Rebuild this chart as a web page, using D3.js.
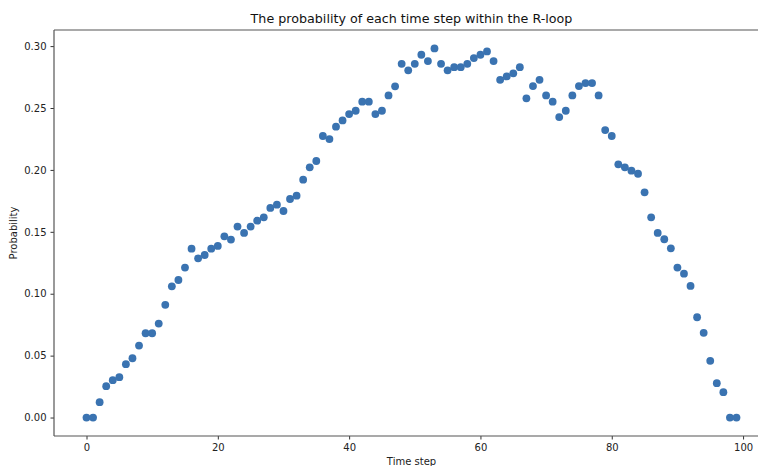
<!DOCTYPE html>
<html>
<head>
    <title>R-loop time step probability</title>
    <style>
        body { margin: 0; background: #ffffff; }
        svg { display: block; }
        .tick text { font-family: "DejaVu Sans", sans-serif; font-size: 10px; fill: #222; }
        .axis-label { font-family: "DejaVu Sans", sans-serif; font-size: 10px; fill: #222; }
        .title { font-family: "DejaVu Sans", sans-serif; font-size: 12.7px; fill: #111; }
    </style>
    <script src="https://d3js.org/d3.v7.min.js"></script>
</head>
<body>
<div id="chart"></div>
<script>
    // probability of each time step
    var probability = [
        0.0000, 0.0000, 0.0124, 0.0253, 0.0302, 0.0326, 0.0431, 0.0479, 0.0581, 0.0681,
        0.0681, 0.0759, 0.0910, 0.1060, 0.1111, 0.1211, 0.1364, 0.1286, 0.1313, 0.1364,
        0.1386, 0.1464, 0.1437, 0.1542, 0.1491, 0.1542, 0.1590, 0.1617, 0.1693, 0.1719,
        0.1668, 0.1765, 0.1792, 0.1921, 0.2021, 0.2072, 0.2274, 0.2249, 0.2349, 0.2400,
        0.2451, 0.2478, 0.2551, 0.2551, 0.2451, 0.2478, 0.2602, 0.2675, 0.2857, 0.2804,
        0.2857, 0.2930, 0.2879, 0.2981, 0.2857, 0.2804, 0.2830, 0.2830, 0.2857, 0.2903,
        0.2930, 0.2957, 0.2879, 0.2728, 0.2755, 0.2780, 0.2830, 0.2578, 0.2677, 0.2728,
        0.2602, 0.2551, 0.2427, 0.2478, 0.2602, 0.2677, 0.2701, 0.2701, 0.2602, 0.2322,
        0.2274, 0.2045, 0.2021, 0.1994, 0.1969, 0.1819, 0.1617, 0.1491, 0.1440, 0.1367,
        0.1211, 0.1162, 0.1063, 0.0810, 0.0684, 0.0458, 0.0278, 0.0205, 0.0000, 0.0000
    ];
    var timeSteps = d3.range(probability.length);

    var xTicks = [0, 20, 40, 60, 80, 100];
    var yTicks = [0, 0.05, 0.10, 0.15, 0.20, 0.25, 0.30];

    var width = 758, height = 466;
    var margin = { top: 30, left: 54, bottom: 30 };
    var plotBottom = 436;

    var svg = d3.select('#chart')
        .append('svg')
        .attr('width', width)
        .attr('height', height);

    // matplotlib-like 5% margins around the data
    var xPad = 0.05 * (d3.max(timeSteps) - 0);
    var yMax = d3.max(probability);
    var yPad = 0.05 * yMax;

    var x = d3.scaleLinear()
        .domain([0 - xPad, d3.max(timeSteps) + xPad])
        .range([margin.left, 769]);

    var y = d3.scaleLinear()
        .domain([0 - yPad, yMax + yPad])
        .range([plotBottom, margin.top]);

    svg.append('g')
        .attr('transform', 'translate(0,' + plotBottom + ')')
        .call(d3.axisBottom(x).tickValues(xTicks).tickFormat(d3.format('d')).tickSize(3.5).tickPadding(4))
        .call(function(g) { g.select('.domain').remove(); })
        .call(function(g) { g.selectAll('line').attr('stroke', '#333'); });

    svg.append('g')
        .attr('transform', 'translate(' + margin.left + ',0)')
        .call(d3.axisLeft(y).tickValues(yTicks).tickFormat(d3.format('.2f')).tickSize(3.5).tickPadding(4))
        .call(function(g) { g.select('.domain').remove(); })
        .call(function(g) { g.selectAll('line').attr('stroke', '#333'); });

    // spines: left, top, bottom (right one falls outside the picture)
    var spine = svg.append('g').attr('stroke', '#555').attr('stroke-width', 1.2).attr('fill', 'none');
    spine.append('line').attr('x1', x.range()[0]).attr('x2', x.range()[0]).attr('y1', y.range()[1]).attr('y2', y.range()[0]);
    spine.append('line').attr('x1', x.range()[0]).attr('x2', x.range()[1]).attr('y1', y.range()[1]).attr('y2', y.range()[1]);
    spine.append('line').attr('x1', x.range()[0]).attr('x2', x.range()[1]).attr('y1', y.range()[0]).attr('y2', y.range()[0]);

    svg.selectAll('circle')
        .data(probability)
        .enter()
        .append('circle')
        .attr('cx', function(d, i) { return x(timeSteps[i]); })
        .attr('cy', function(d) { return y(d); })
        .attr('r', 3.9)
        .style('fill', '#3a73b1');

    svg.append('text')
        .attr('class', 'title')
        .attr('x', (x.range()[0] + x.range()[1]) / 2)
        .attr('y', 23.3)
        .style('text-anchor', 'middle')
        .text('The probability of each time step within the R-loop');

    svg.append('text')
        .attr('class', 'axis-label')
        .attr('x', (x.range()[0] + x.range()[1]) / 2)
        .attr('y', 464.8)
        .style('text-anchor', 'middle')
        .text('Time step');

    svg.append('text')
        .attr('class', 'axis-label')
        .attr('transform', 'rotate(-90)')
        .attr('x', -(margin.top + plotBottom) / 2)
        .attr('y', 17)
        .style('text-anchor', 'middle')
        .text('Probability');
</script>
</body>
</html>
